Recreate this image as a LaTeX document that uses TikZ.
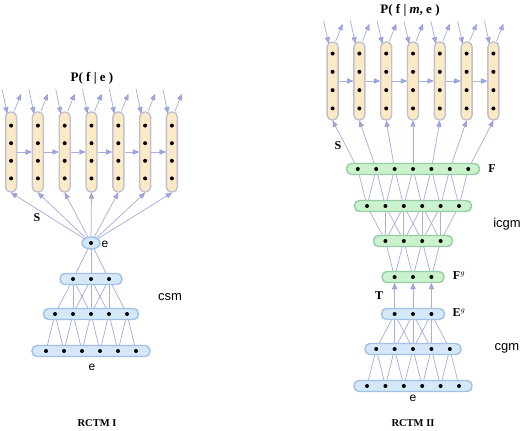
\documentclass[tikz,border=0pt]{standalone}
\usepackage{fontspec}
\setmainfont{Liberation Serif}
\setsansfont{Liberation Sans}
\usetikzlibrary{arrows.meta,shapes.geometric}
\pgfdeclarelayer{background}
\pgfsetlayers{background,main}
\definecolor{lineblue}{RGB}{168,176,226}
\definecolor{arrfill}{RGB}{160,170,228}
\definecolor{arrdraw}{RGB}{130,140,210}
\definecolor{yfill}{RGB}{252,234,198}
\definecolor{ydraw}{RGB}{192,192,206}
\definecolor{gfill}{RGB}{202,242,204}
\definecolor{gdraw}{RGB}{150,204,166}
\definecolor{bfill}{RGB}{212,232,250}
\definecolor{bdraw}{RGB}{160,192,228}
% layer: name, n, cx, y, width, style, spacing
\newcommand{\mklayer}[7]{%
  \node[#6, minimum width=#5pt] (#1) at (#3,#4) {};
  \foreach \k in {1,...,#2} {%
    \pgfmathsetmacro\xx{#3+#7*(\k-(#2+1)/2)}%
    \node[dotn] (#1-\k) at (\xx,#4) {};
  }%
}
% kernel connections: small layer name, n small, big layer name, kernel
\newcommand{\kconn}[4]{%
  \foreach \j in {1,...,#2} {%
    \foreach \d in {1,...,#4} {%
      \pgfmathtruncatemacro\tgt{\j+\d-1}%
      \draw[conn] (#1-\j) -- (#3-\tgt);
    }%
  }%
}
\begin{document}
\begin{tikzpicture}[x=1pt,y=-1pt,
  conn/.style={draw=lineblue, line width=0.75pt},
  arr/.style={conn, -{Triangle[length=6pt,width=5pt,fill=arrfill,color=arrdraw,line width=0.4pt]}},
  dotn/.style={circle, fill=black, inner sep=0pt, minimum size=4pt},
  layerbox/.style={rounded corners=5pt, minimum height=11pt, inner sep=0pt, line width=1.4pt},
  ybox/.style={layerbox, fill=yfill, draw=ydraw, minimum width=11pt},
  gbox/.style={layerbox, fill=gfill, draw=gdraw},
  bbox/.style={layerbox, fill=bfill, draw=bdraw},
  lab/.style={font=\sffamily\fontsize{13}{13}\selectfont, inner sep=0pt},
  bl/.style={font=\bfseries\fontsize{12}{12}\selectfont, inner sep=0pt},
  ttl/.style={font=\bfseries\fontsize{13}{13}\selectfont, inner sep=0pt}
]
\useasboundingbox (0,0) rectangle (526,430);

% ================= LEFT: RCTM I =================
\foreach \i in {1,...,7} {
  \pgfmathsetmacro\cx{91.5+26.8*(\i-4)}
  \node[ybox, minimum height=80pt] (colL-\i) at (\cx,152) {};
  \foreach \k in {1,...,4} {
    \pgfmathsetmacro\yy{152+17.6*(\k-2.5)}
    \node[dotn] (colL-\i-\k) at (\cx,\yy) {};
  }
  \coordinate (inL-\i) at (\cx-9,89);
  \coordinate (outL-\i) at (\cx+10,94);
}
\foreach \i in {1,...,7} {
  \draw[arr] (inL-\i) -- ([xshift=-4pt,yshift=-2pt]colL-\i.north);
  \draw[arr] ([xshift=3pt]colL-\i.north) -- (outL-\i);
}
\foreach \i [evaluate=\i as \n using int(\i+1)] in {1,...,6} {
  \draw[arr] (colL-\i.east) -- (colL-\n.west);
}
\node[ellipse, fill=bfill, draw=bdraw, line width=1.4pt, minimum width=18pt, minimum height=12pt, inner sep=0pt] (eL) at (91,243) {};
\node[dotn] (eL-1) at (91,243) {};
\mklayer{LA}{3}{91}{279}{62}{bbox}{18}
\mklayer{LB}{5}{91}{314}{95}{bbox}{18}
\mklayer{LC}{6}{91}{351}{118}{bbox}{18}
\begin{pgfonlayer}{background}
  \foreach \i in {1,...,7} { \draw[arr] (eL) -- (colL-\i.south); }
  \kconn{eL}{1}{LA}{3}
  \kconn{LA}{3}{LB}{3}
  \kconn{LB}{5}{LC}{2}
\end{pgfonlayer}

\node[ttl] (tL) at (92,78) {P( f | e )};
\node[bl] (sL) at (37,218) {S};
\node[lab, font=\sffamily\fontsize{12}{12}\selectfont] (eLl) at (105,244) {e};
\node[lab] (csm) at (170,297) {csm};
\node[lab, font=\sffamily\fontsize{12}{12}\selectfont] (eLb) at (92,367) {e};
\node[bl, font=\bfseries\fontsize{10.5}{10.5}\selectfont] (capL) at (97,423) {RCTM I};

% ================= RIGHT: RCTM II =================
\foreach \i in {1,...,7} {
  \pgfmathsetmacro\cx{413+26.8*(\i-4)}
  \node[ybox, minimum height=78pt] (colR-\i) at (\cx,81) {};
  \foreach \k in {1,...,4} {
    \pgfmathsetmacro\yy{81+18.3*(\k-2.5)}
    \node[dotn] (colR-\i-\k) at (\cx,\yy) {};
  }
  \coordinate (inR-\i) at (\cx-9,21);
  \coordinate (outR-\i) at (\cx+10,24);
}
\foreach \i in {1,...,7} {
  \draw[arr] (inR-\i) -- ([xshift=-4pt,yshift=-2pt]colR-\i.north);
  \draw[arr] ([xshift=3pt]colR-\i.north) -- (outR-\i);
}
\foreach \i [evaluate=\i as \n using int(\i+1)] in {1,...,6} {
  \draw[arr] (colR-\i.east) -- (colR-\n.west);
}
\mklayer{F}{7}{413}{169}{133}{gbox}{18.4}
\mklayer{RA}{6}{413}{206}{117}{gbox}{18.4}
\mklayer{RB}{4}{413}{241}{79}{gbox}{18.4}
\mklayer{Fg}{3}{413}{277}{62}{gbox}{18.4}
\mklayer{Eg}{3}{413}{314}{63}{bbox}{18.4}
\mklayer{CA}{5}{413}{349}{96}{bbox}{18.4}
\mklayer{CB}{6}{413}{386}{118}{bbox}{18.4}
\begin{pgfonlayer}{background}
  \foreach \i in {1,...,7} { \draw[arr] (F-\i) -- (colR-\i.south); }
  \kconn{RA}{6}{F}{2}
  \kconn{RB}{4}{RA}{3}
  \kconn{Fg}{3}{RB}{2}
  \kconn{Eg}{3}{CA}{3}
  \kconn{CA}{5}{CB}{2}
\end{pgfonlayer}
\foreach \m in {1,2,3} {
  \draw[arr] (Eg-\m |- Eg.north) -- (Fg-\m |- Fg.south);
}

\node[ttl] (tR) at (410,10) {P( f | \textit{m}, e )};
\node[bl] (sR) at (338,146) {S};
\node[bl] (Fl) at (492,169) {F};
\node[lab] (icgm) at (507,224) {icgm};
\node[bl] (Fgl) at (459,276) {F$^{g}$};
\node[bl] (Tl) at (379,296) {T};
\node[bl] (Egl) at (459,313) {E$^{g}$};
\node[lab] (cgm) at (507,348) {cgm};
\node[lab, font=\sffamily\fontsize{12}{12}\selectfont] (eRb) at (413,398) {e};
\node[bl, font=\bfseries\fontsize{10.5}{10.5}\selectfont] (capR) at (413,423) {RCTM II};
\end{tikzpicture}
\end{document}
